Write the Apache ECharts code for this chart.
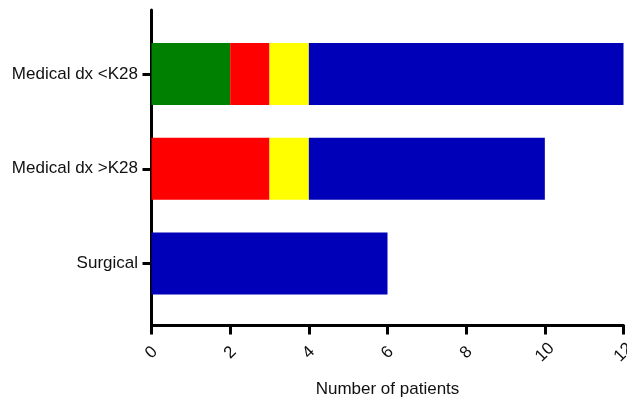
<!DOCTYPE html>
<html>
<head>
<meta charset="utf-8">
<script src="https://cdn.jsdelivr.net/npm/echarts@6/dist/echarts.min.js"></script>
<style>html,body{margin:0;padding:0;background:#fff;}#c{width:627px;height:401px;}</style>
</head>
<body>
<div id="c"></div>
<script>
const categories = ['Medical dx <K28', 'Medical dx >K28', 'Surgical'];
const greenVals = [2, 0, 0];
const redVals = [1, 3, 0];
const yellowVals = [1, 1, 0];
const blueVals = [8, 6, 6];
const xTicks = [0, 2, 4, 6, 8, 10, 12];
const xName = 'Number of patients';

const FONT = 'Liberation Sans, Arial, sans-serif';
const chart = echarts.init(document.getElementById('c'), null, {renderer: 'canvas'});
const mk = (name, data, color) => ({
  name, type: 'bar', stack: 'total', data,
  xAxisIndex: 0, yAxisIndex: 0,
  barWidth: 62,
  itemStyle: {color},
  silent: true
});
chart.setOption({
  animation: false,
  backgroundColor: '#fff',
  grid: [
    {left: 151.5, right: 3.5, top: 26.6, bottom: 90, containLabel: false, outerBoundsMode: 'none'},
    {left: 151.5, right: 3.5, top: 10, bottom: 75.5, containLabel: false, outerBoundsMode: 'none'}
  ],
  xAxis: [
    {gridIndex: 0, type: 'value', min: 0, max: 12, interval: 2, show: false},
    {gridIndex: 1, type: 'value', min: xTicks[0], max: xTicks[xTicks.length - 1], interval: 2,
     name: xName, nameLocation: 'middle', nameGap: 55,
     nameTextStyle: {fontFamily: FONT, fontSize: 17, color: '#111'},
     axisLine: {show: true, lineStyle: {color: '#000', width: 3}},
     axisTick: {show: true, length: 9, lineStyle: {color: '#000', width: 3}},
     splitLine: {show: false},
     axisLabel: {rotate: 45, align: 'center', verticalAlign: 'middle', margin: 27,
       fontFamily: FONT, fontSize: 17, color: '#111'}}
  ],
  yAxis: [
    {gridIndex: 0, type: 'category', data: categories, inverse: true,
     axisLine: {show: false},
     axisTick: {show: true, alignWithLabel: true, length: 9, lineStyle: {color: '#000', width: 3}},
     axisLabel: {margin: 13.5, fontFamily: FONT, fontSize: 17, color: '#111'},
     splitLine: {show: false}},
    {gridIndex: 1, type: 'value', min: 0, max: 1,
     axisLine: {show: true, onZero: false, lineStyle: {color: '#000', width: 3}},
     axisTick: {show: false}, axisLabel: {show: false}, splitLine: {show: false}}
  ],
  series: [
    mk('Green', greenVals, '#008000'),
    mk('Red', redVals, '#FF0000'),
    mk('Yellow', yellowVals, '#FFFF00'),
    mk('Blue', blueVals, '#0000B8')
  ]
});
</script>
</body>
</html>
